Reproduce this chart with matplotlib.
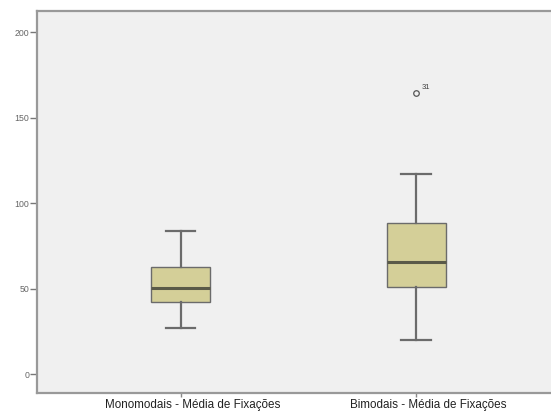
import matplotlib
matplotlib.use("Agg")
import matplotlib.pyplot as plt
from matplotlib.transforms import ScaledTranslation

# Summary statistics per group
groups = ["Monomodais - Média de Fixações", "Bimodais - Média de Fixações"]
whisker_low = [26.8, 20.3]
q1 = [42.0, 51.1]
median = [50.2, 65.9]
q3 = [62.8, 88.6]
whisker_high = [83.9, 117.1]
outliers = [[], [164.3]]
outlier_ids = [[], ["31"]]

y_ticks = [0, 50, 100, 150, 200]

plt.rcParams["font.family"] = ["Liberation Sans", "DejaVu Sans"]

fig = plt.figure(figsize=(5.51, 4.12), dpi=100)
fig.patch.set_facecolor("white")
ax = fig.add_axes([37 / 551, 19 / 412, 1.0 - 37 / 551 + 0.005, 382 / 412])
ax.set_facecolor("#f0f0f0")

stats = []
for i, name in enumerate(groups):
    stats.append(dict(label=name, whislo=whisker_low[i], q1=q1[i], med=median[i],
                      q3=q3[i], whishi=whisker_high[i], fliers=outliers[i]))

edge = "#6b6b6b"
ax.bxp(stats, positions=[1, 2], widths=0.25, patch_artist=True,
       boxprops=dict(facecolor="#d4cf98", edgecolor=edge, linewidth=1.0),
       medianprops=dict(color="#5a5a48", linewidth=2.2),
       whiskerprops=dict(color=edge, linewidth=1.6),
       capprops=dict(color=edge, linewidth=1.6),
       capwidths=0.125,
       flierprops=dict(marker="o", markersize=4, markerfacecolor="none",
                       markeredgecolor="#555555", markeredgewidth=0.9))

for i, ids in enumerate(outlier_ids):
    for val, txt in zip(outliers[i], ids):
        ax.annotate(txt, xy=(i + 1, val), xytext=(4, 3), textcoords="offset points",
                    fontsize=5.5, color="#444444")

ax.set_xlim(0.389, 2.585)
ax.set_ylim(-11, 212.5)
ax.set_yticks(y_ticks)
ax.set_yticklabels([str(t) for t in y_ticks], fontsize=6.3, color="#666666")
ax.set_xticks([1, 2])
ax.set_xticklabels(groups, fontsize=8.4, color="#222222")
ax.tick_params(axis="y", length=5, width=1.0, color="#777777", pad=0.5)
ax.tick_params(axis="x", length=3, width=1.0, color="#888888", pad=1.5)

# category labels sit a little to the right of their ticks
shift = ScaledTranslation(12 / 100, 0, fig.dpi_scale_trans)
for lbl in ax.get_xticklabels():
    lbl.set_transform(lbl.get_transform() + shift)

for side in ["left", "bottom", "top"]:
    ax.spines[side].set_color("#999999")
    ax.spines[side].set_linewidth(1.6)
ax.spines["right"].set_visible(False)

fig.savefig("out.png", dpi=100, facecolor="white")
